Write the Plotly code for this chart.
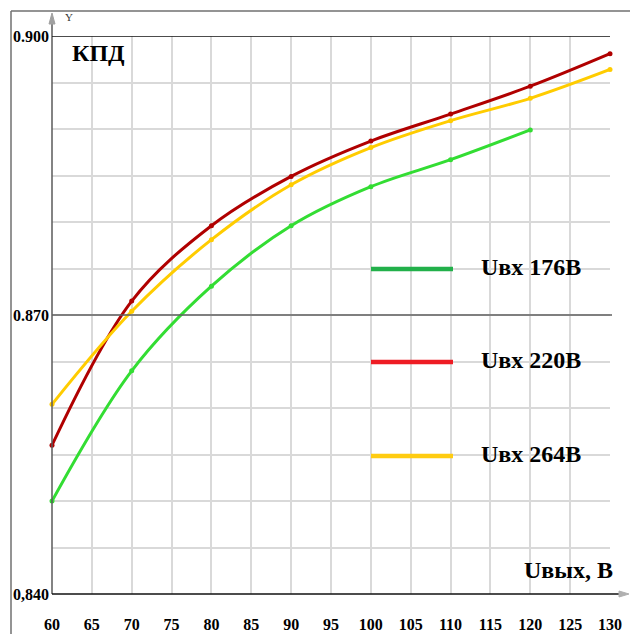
import plotly.graph_objects as go

# ---- data ----
u_out = [60, 70, 80, 90, 100, 110, 120, 130]
eff_176 = [0.8500, 0.8640, 0.8731, 0.8796, 0.8838, 0.8867, 0.8899]
eff_220 = [0.8560, 0.8715, 0.8796, 0.8849, 0.8887, 0.8916, 0.8946, 0.8981]
eff_264 = [0.8604, 0.8704, 0.8781, 0.8840, 0.8880, 0.8909, 0.8933, 0.8964]
series_names = ["Uвх 176В", "Uвх 220В", "Uвх 264В"]
x_ticks = list(range(60, 131, 5))
y_grid = [0.840, 0.845, 0.850, 0.855, 0.860, 0.865, 0.870, 0.875, 0.880, 0.885, 0.890, 0.895, 0.900]
y_labels = {0.840: "0,840", 0.870: "0.870", 0.900: "0.900"}

W, H = 630, 634
ML, MR, MT, MB = 52, 20, 36, 40
PW = W - ML - MR
PH = H - MT - MB


def px(x):
    return (x - ML) / PW


def py(y):
    return (H - MB - y) / PH


SERIF = "Liberation Serif, Times New Roman, serif"
curve_colors = ["#33DD33", "#B00000", "#FFCC00"]
legend_colors = ["#22B04A", "#EE1C24", "#FFCC11"]

fig = go.Figure()
for name, ys, c in zip(series_names, [eff_176, eff_220, eff_264], curve_colors):
    fig.add_trace(go.Scatter(
        x=u_out[:len(ys)], y=ys, name=name, mode="lines+markers",
        line=dict(color=c, width=3, shape="spline", smoothing=1.0),
        marker=dict(color=c, size=5), showlegend=False, cliponaxis=False,
    ))

shapes = []
# Outer frame (top and left)
frame_col = "#707070"
shapes.append(dict(type="line", xref="paper", yref="paper", x0=px(11), x1=px(W + 5), y0=py(11), y1=py(11),
                   line=dict(color=frame_col, width=1.5)))
shapes.append(dict(type="line", xref="paper", yref="paper", x0=px(11), x1=px(11), y0=py(11), y1=py(H + 5),
                   line=dict(color=frame_col, width=1.5)))
# y axis extension and arrow
shapes.append(dict(type="line", xref="paper", yref="paper", x0=px(ML), x1=px(ML), y0=py(22), y1=py(H - MB),
                   line=dict(color="#5a5a5a", width=1.5)))
shapes.append(dict(type="path", xref="paper", yref="paper",
                   path=f"M {px(ML-3)},{py(24)} L {px(ML)},{py(13)} L {px(ML+3)},{py(24)} Z",
                   fillcolor="#a0a0a0", line=dict(color="#a0a0a0", width=1)))
# x axis extension and arrow
shapes.append(dict(type="line", xref="paper", yref="paper", x0=px(ML), x1=px(620), y0=py(H - MB), y1=py(H - MB),
                   line=dict(color="#111111", width=1.5)))
shapes.append(dict(type="path", xref="paper", yref="paper",
                   path=f"M {px(619)},{py(H-MB-3)} L {px(629)},{py(H-MB)} L {px(619)},{py(H-MB+3)} Z",
                   fillcolor="#b0b0b0", line=dict(color="#b0b0b0", width=1)))
# horizontal reference lines
shapes.append(dict(type="line", xref="paper", yref="y", x0=0, x1=1, y0=0.900, y1=0.900,
                   line=dict(color="#111111", width=1.5)))
shapes.append(dict(type="line", xref="paper", yref="y", x0=0, x1=px(612), y0=0.870, y1=0.870,
                   line=dict(color="#606060", width=1.5)))
# legend lines
leg_y = [269, 362, 456]
for yy, c in zip(leg_y, legend_colors):
    shapes.append(dict(type="line", xref="paper", yref="paper", x0=px(371), x1=px(453), y0=py(yy), y1=py(yy),
                       line=dict(color=c, width=4.5)))

annotations = []
for yy, name in zip(leg_y, series_names):
    annotations.append(dict(xref="paper", yref="paper", x=px(479), y=py(yy - 2), text=name, showarrow=False,
                            xanchor="left", yanchor="middle",
                            font=dict(family=SERIF, size=24, color="#000", weight="bold")))
annotations.append(dict(xref="paper", yref="paper", x=px(70), y=py(53), text="КПД", showarrow=False,
                        xanchor="left", yanchor="middle",
                        font=dict(family=SERIF, size=24, color="#000", weight="bold")))
annotations.append(dict(xref="paper", yref="paper", x=px(615), y=py(570), text="Uвых, В", showarrow=False,
                        xanchor="right", yanchor="middle",
                        font=dict(family=SERIF, size=24, color="#000", weight="bold")))
annotations.append(dict(xref="paper", yref="paper", x=px(63), y=py(17), text="Y", showarrow=False,
                        xanchor="left", yanchor="middle",
                        font=dict(family=SERIF, size=11, color="#333")))

fig.update_layout(
    width=W, height=H,
    margin=dict(l=ML, r=MR, t=MT, b=MB, pad=0, autoexpand=False),
    paper_bgcolor="white", plot_bgcolor="white",
    shapes=shapes, annotations=annotations,
    xaxis=dict(range=[60, 130], tickvals=x_ticks, ticktext=[str(v) for v in x_ticks],
               showgrid=True, gridcolor="#d9d9d9", gridwidth=1.5, zeroline=False,
               showline=False, ticks="", ticklabelstandoff=19, automargin=False,
               tickfont=dict(family=SERIF, size=16, color="#000", weight="bold"), fixedrange=True),
    yaxis=dict(range=[0.840, 0.900], tickvals=y_grid,
               ticktext=[y_labels.get(round(v, 3), "") for v in y_grid],
               showgrid=True, gridcolor="#d9d9d9", gridwidth=1.5, zeroline=False,
               showline=False, ticks="", ticklabelstandoff=2, automargin=False,
               tickfont=dict(family=SERIF, size=16, color="#000", weight="bold"), fixedrange=True),
    showlegend=False,
)

fig.write_html("out.html")
